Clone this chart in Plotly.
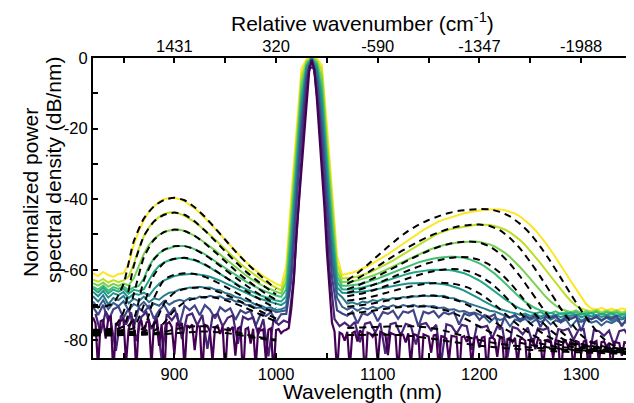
import plotly.graph_objects as go

# ---------------- data ----------------
wavelength = list(range(820, 1355, 5))              # measured grid (nm)
wavelength_b = [w + 2.5 for w in wavelength]        # grid of trace p1
wavelength_fine = [820 + 2.5 * k for k in range(213)]  # grid of trace p0
sim_wl_left = list(range(820, 1005, 10))            # simulation grid, anti-Stokes side
sim_wl_right = list(range(1070, 1355, 10))          # simulation grid, Stokes side

x_tick_vals = [900, 1000, 1100, 1200, 1300]
x_tick_text = ["900", "1000", "1100", "1200", "1300"]
x_minor_vals = [850, 950, 1050, 1150, 1250]
top_tick_vals = [900, 1000, 1100, 1200, 1300]
top_tick_text = ["1431", "320", "-590", "-1347", "-1988"]
y_tick_vals = [0, -20, -40, -60, -80]
y_tick_text = ["0", "-20", "-40", "-60", "-80"]
y_minor_vals = [-10, -30, -50, -70]

meas_p10 = [-61.0, -61.8, -60.6, -61.5, -62.0, -61.2, -61.0, -58.5, -53.0, -49.0,
            -46.0, -43.5, -42.0, -40.8, -40.0, -39.7, -39.7, -40.0, -40.6, -41.5,
            -42.6, -43.9, -45.3, -46.8, -48.4, -50.0, -51.6, -53.2, -54.8, -56.3,
            -57.7, -59.0, -60.2, -61.3, -62.3, -63.2, -64.0, -64.6, -59.0, -39.0,
            -20.0, -3.0, -0.4, 0.0, -0.2, -2.0, -19.0, -37.5, -56.0, -61.5,
            -61.2, -60.8, -60.3, -59.7, -59.0, -58.2, -57.4, -56.5, -55.6, -54.6,
            -53.6, -52.6, -51.6, -50.6, -49.6, -48.7, -47.9, -47.0, -46.3, -45.8,
            -45.3, -44.8, -44.4, -44.0, -43.7, -43.4, -43.2, -43.0, -42.9, -42.8,
            -42.9, -43.1, -43.5, -44.1, -44.9, -46.0, -47.3, -48.8, -50.5, -52.4,
            -54.4, -56.5, -58.7, -61.0, -63.3, -65.6, -67.8, -69.8, -71.0, -71.3,
            -70.8, -71.5, -71.0, -71.6, -70.9, -71.4, -71.2]
meas_p9 = [-62.8, -63.4, -62.6, -63.6, -62.9, -63.5, -63.0, -62.0, -58.5, -54.0,
           -50.5, -48.0, -46.3, -45.0, -44.2, -43.8, -43.8, -44.1, -44.7, -45.5,
           -46.5, -47.6, -48.8, -50.1, -51.4, -52.8, -54.2, -55.6, -57.0, -58.3,
           -59.5, -60.6, -61.7, -62.7, -63.6, -64.4, -65.1, -65.8, -61.5, -42.0,
           -22.5, -5.0, -0.7, 0.0, -0.5, -3.5, -22.0, -40.5, -58.5, -62.5,
           -62.4, -62.2, -61.9, -61.5, -61.0, -60.4, -59.7, -59.0, -58.2, -57.4,
           -56.5, -55.6, -54.7, -53.8, -52.9, -52.0, -51.2, -50.4, -49.7, -49.1,
           -48.6, -48.3, -48.0, -47.7, -47.5, -47.3, -47.2, -47.2, -47.3, -47.6,
           -48.0, -48.6, -49.4, -50.4, -51.6, -53.0, -54.6, -56.3, -58.1, -60.0,
           -61.9, -63.8, -65.6, -67.3, -68.9, -70.2, -71.0, -71.4, -71.8, -71.3,
           -72.0, -71.5, -71.9, -71.4, -72.1, -71.6, -71.8]
meas_p8 = [-63.8, -64.5, -63.6, -64.8, -64.0, -64.6, -63.9, -64.4, -62.5, -59.0,
           -55.5, -53.0, -51.3, -50.1, -49.3, -48.9, -48.7, -48.7, -49.0, -49.6,
           -50.4, -51.3, -52.3, -53.4, -54.5, -55.7, -56.9, -58.1, -59.3, -60.4,
           -61.5, -62.5, -63.4, -64.2, -64.9, -65.6, -66.2, -66.7, -63.5, -45.0,
           -25.5, -7.0, -1.2, 0.0, -1.0, -5.5, -25.0, -43.5, -60.5, -63.5,
           -63.5, -63.3, -63.0, -62.6, -62.2, -61.7, -61.1, -60.5, -59.8, -59.1,
           -58.4, -57.7, -57.0, -56.3, -55.6, -55.0, -54.4, -53.9, -53.4, -53.0,
           -52.7, -52.4, -52.2, -52.1, -52.0, -52.0, -52.1, -52.4, -52.8, -53.4,
           -54.2, -55.2, -56.4, -57.8, -59.3, -60.9, -62.6, -64.3, -66.0, -67.6,
           -69.0, -70.2, -71.1, -71.6, -72.0, -71.5, -72.3, -71.7, -72.2, -71.6,
           -72.4, -71.8, -72.2, -71.7, -72.5, -71.9, -72.1]
meas_p7 = [-64.8, -65.6, -64.5, -65.9, -64.9, -65.4, -64.7, -65.8, -65.0, -64.6,
           -62.5, -59.0, -56.8, -55.3, -54.4, -53.8, -53.4, -53.3, -53.3, -53.6,
           -54.1, -54.8, -55.6, -56.5, -57.5, -58.5, -59.5, -60.5, -61.5, -62.4,
           -63.3, -64.1, -64.9, -65.6, -66.2, -66.8, -67.3, -67.7, -65.5, -48.0,
           -28.0, -9.5, -1.8, 0.0, -1.5, -8.0, -28.0, -47.0, -62.0, -64.5,
           -64.5, -64.4, -64.2, -63.9, -63.5, -63.0, -62.5, -61.9, -61.3, -60.7,
           -60.1, -59.5, -58.9, -58.4, -57.9, -57.5, -57.1, -56.8, -56.6, -56.4,
           -56.3, -56.3, -56.4, -56.6, -57.0, -57.5, -58.2, -59.0, -60.0, -61.1,
           -62.4, -63.8, -65.2, -66.6, -67.9, -69.1, -70.1, -70.9, -71.5, -71.9,
           -72.3, -71.8, -72.6, -72.0, -72.5, -71.9, -72.8, -72.1, -72.4, -71.9,
           -72.7, -72.0, -72.5, -72.1, -72.8, -72.2, -72.4]
meas_p6 = [-65.3, -66.4, -65.1, -66.7, -65.6, -66.2, -65.4, -66.8, -65.7, -66.0,
           -65.5, -63.0, -60.5, -58.9, -57.9, -57.3, -56.9, -56.7, -56.7, -56.9,
           -57.3, -57.9, -58.6, -59.4, -60.3, -61.2, -62.1, -63.0, -63.9, -64.7,
           -65.4, -66.1, -66.7, -67.3, -67.8, -68.3, -68.7, -69.0, -67.5, -51.0,
           -30.0, -12.0, -2.3, 0.0, -2.2, -10.5, -30.0, -49.0, -63.5, -65.5,
           -65.6, -65.5, -65.3, -65.0, -64.7, -64.3, -63.9, -63.4, -62.9, -62.4,
           -61.9, -61.5, -61.1, -60.8, -60.5, -60.3, -60.1, -60.0, -60.0, -60.0,
           -60.1, -60.3, -60.6, -61.0, -61.6, -62.3, -63.1, -64.0, -65.0, -66.1,
           -67.2, -68.3, -69.3, -70.2, -71.0, -71.6, -72.0, -72.4, -72.0, -72.7,
           -72.2, -72.8, -72.3, -72.6, -72.1, -72.9, -72.4, -72.7, -72.2, -73.0,
           -72.5, -72.8, -72.3, -73.1, -72.6, -72.9, -72.5]
meas_p5 = [-66.2, -67.5, -66.0, -67.9, -66.6, -67.2, -66.3, -68.0, -66.8, -67.1,
           -66.5, -67.4, -65.5, -64.0, -63.0, -62.3, -61.8, -61.5, -61.3, -61.2,
           -61.2, -61.3, -61.6, -62.0, -62.5, -63.1, -63.8, -64.5, -65.2, -65.9,
           -66.6, -67.2, -67.8, -68.3, -68.8, -69.2, -69.6, -70.0, -69.0, -54.0,
           -33.0, -14.0, -2.8, 0.0, -2.8, -13.0, -33.0, -52.0, -65.0, -66.5,
           -66.6, -66.5, -66.4, -66.2, -66.0, -65.7, -65.4, -65.1, -64.8, -64.5,
           -64.3, -64.1, -63.9, -63.8, -63.7, -63.7, -63.7, -63.8, -63.9, -64.1,
           -64.4, -64.8, -65.3, -65.9, -66.6, -67.4, -68.2, -69.0, -69.8, -70.5,
           -71.1, -71.6, -72.0, -72.3, -72.8, -72.4, -73.1, -72.6, -73.3, -72.7,
           -73.2, -72.8, -73.4, -72.9, -73.1, -72.6, -73.5, -72.9, -73.2, -72.8,
           -73.4, -73.0, -73.3, -72.9, -73.6, -73.1, -73.3]
meas_p4 = [-67.5, -69.0, -67.2, -69.8, -68.0, -68.6, -67.4, -69.5, -68.2, -68.9,
           -67.6, -69.2, -68.1, -68.5, -67.3, -66.5, -66.3, -65.6, -65.5, -65.0,
           -65.2, -64.8, -65.1, -65.0, -65.6, -65.8, -66.6, -66.9, -67.7, -68.0,
           -68.8, -69.1, -69.9, -70.1, -70.8, -70.6, -71.4, -71.2, -70.5, -57.0,
           -36.0, -17.0, -4.0, -0.2, -4.0, -16.0, -36.0, -55.0, -66.5, -67.8,
           -69.6, -69.2, -69.8, -69.0, -69.3, -68.6, -68.9, -68.3, -68.5, -68.0,
           -68.1, -67.7, -67.9, -67.5, -67.6, -67.3, -67.5, -67.2, -67.5, -67.4,
           -68.0, -68.1, -68.7, -69.0, -69.6, -70.0, -70.6, -71.0, -71.6, -71.8,
           -72.4, -72.9, -73.6, -73.1, -74.0, -73.3, -74.2, -73.5, -73.9, -73.2,
           -74.1, -73.4, -74.3, -73.6, -73.9, -73.3, -74.4, -73.7, -74.0, -73.5,
           -74.2, -73.6, -74.5, -73.8, -74.1, -73.5, -74.0]
meas_p3 = [-69.0, -70.8, -68.6, -71.2, -69.4, -70.3, -68.9, -71.5, -69.7, -70.5,
           -69.1, -70.9, -69.6, -70.2, -68.8, -69.9, -69.0, -68.5, -68.9, -68.0,
           -68.3, -67.6, -68.0, -67.4, -67.8, -67.5, -68.3, -68.2, -69.0, -69.1,
           -69.9, -70.0, -70.8, -70.6, -71.5, -71.2, -72.0, -71.7, -71.5, -60.0,
           -39.0, -19.0, -5.0, -0.3, -5.5, -19.0, -39.0, -58.0, -68.0, -70.5,
           -71.3, -70.6, -71.6, -70.8, -71.2, -70.5, -71.0, -70.3, -70.7, -70.1,
           -70.6, -70.0, -70.4, -69.9, -70.5, -70.1, -70.4, -70.3, -70.8, -70.7,
           -71.3, -71.2, -71.8, -71.7, -72.3, -72.1, -72.7, -73.4, -74.9, -73.6,
           -74.2, -73.8, -76.0, -74.1, -74.6, -73.9, -75.3, -74.2, -74.8, -74.0,
           -75.5, -74.3, -74.9, -74.1, -76.2, -74.4, -74.8, -74.2, -75.0, -74.5,
           -75.8, -74.6, -75.1, -74.3, -75.4, -74.7, -75.0]
meas_p2 = [-70.5, -72.8, -69.9, -74.5, -71.2, -70.4, -73.6, -71.0, -76.5, -70.8,
           -72.1, -70.3, -73.9, -71.5, -70.0, -72.6, -70.7, -75.8, -70.2, -71.4,
           -70.1, -72.9, -70.0, -71.3, -73.8, -70.6, -71.8, -70.9, -74.2, -71.5,
           -72.3, -71.6, -75.9, -72.4, -73.1, -72.0, -74.8, -72.6, -72.5, -63.0,
           -42.0, -21.0, -6.0, -0.4, -7.0, -22.0, -43.0, -62.0, -71.5, -72.4,
           -73.0, -71.9, -75.2, -72.3, -72.8, -71.7, -74.6, -72.0, -72.5, -71.6,
           -73.9, -71.8, -72.2, -71.4, -76.1, -71.9, -72.4, -71.7, -73.5, -72.1,
           -72.6, -72.0, -75.5, -72.4, -73.0, -72.3, -74.2, -72.8, -73.4, -72.6,
           -77.0, -73.1, -73.5, -72.8, -74.6, -73.0, -73.8, -72.9, -76.2, -73.3,
           -73.7, -73.0, -74.9, -73.2, -73.9, -73.1, -77.4, -73.5, -74.0, -73.2,
           -74.5, -73.4, -73.9, -73.1, -76.0, -73.6, -74.1]
meas_p1 = [-72.5, -78.0, -71.8, -74.6, -83.0, -72.9, -75.5, -72.1, -80.2, -73.4,
           -72.0, -76.8, -73.2, -85.5, -72.6, -74.3, -72.3, -79.6, -73.0, -72.4,
           -75.7, -72.8, -82.4, -73.1, -72.5, -76.0, -73.6, -72.9, -81.0, -73.3,
           -74.1, -73.5, -78.3, -74.0, -84.5, -74.2, -75.6, -74.4, -75.0, -62.0,
           -40.0, -17.0, -2.5, -3.0, -17.0, -38.0, -60.0, -74.0, -76.0, -75.0,
           -76.2, -74.8, -80.5, -75.3, -74.9, -77.8, -75.1, -83.8, -75.4, -75.0,
           -78.6, -75.3, -75.8, -81.2, -75.5, -75.1, -77.2, -75.6, -86.0, -75.4,
           -75.9, -78.1, -75.6, -76.0, -82.7, -75.8, -76.3, -75.9, -79.4, -76.1,
           -76.5, -84.9, -76.2, -76.7, -78.3, -76.4, -80.9, -76.6, -77.0, -76.5,
           -83.5, -76.8, -77.2, -76.7, -79.8, -77.0, -76.8, -85.2, -77.1, -77.4,
           -78.7, -77.2, -81.6, -77.4, -77.0, -79.3, -77.5]
meas_p0 = [-73.5, -75.2, -88.0, -74.6, -74.2, -79.5, -73.8, -73.0, -90.0, -75.1,
           -75.8, -74.4, -74.1, -86.5, -76.9, -74.7, -74.0, -89.0, -75.2, -74.3,
           -78.4, -74.9, -74.5, -87.2, -75.0, -74.6, -81.6, -75.4, -91.0, -75.3,
           -74.8, -76.2, -84.0, -75.0, -76.0, -75.1, -88.5, -75.7, -76.4, -75.5,
           -82.8, -75.9, -76.1, -90.0, -75.6, -75.9, -77.6, -86.0, -76.3, -75.8,
           -78.2, -76.0, -89.5, -76.4, -77.0, -76.2, -84.3, -76.6, -76.1, -91.0,
           -76.8, -76.4, -80.9, -76.7, -87.8, -76.5, -77.2, -76.9, -85.5, -77.0,
           -76.6, -90.0, -77.1, -76.8, -78.0, -77.3, -77.0, -76.5, -71.0, -63.0,
           -50.0, -41.0, -30.0, -21.0, -12.0, -4.0, -0.6, -3.0, -11.0, -21.0,
           -30.0, -42.0, -55.0, -65.0, -75.0, -77.5, -89.0, -77.8, -78.2, -80.1,
           -77.6, -88.0, -77.9, -77.5, -80.3, -77.2, -78.0, -91.0, -77.8, -78.1,
           -79.0, -77.7, -86.5, -77.6, -78.0, -78.3, -84.2, -77.9, -78.2, -78.5,
           -89.5, -78.1, -78.4, -80.6, -78.0, -87.0, -78.3, -78.4, -79.2, -90.5,
           -78.3, -78.6, -78.9, -83.5, -78.6, -78.4, -88.2, -78.8, -79.0, -79.5,
           -85.8, -78.7, -78.9, -79.0, -91.0, -79.1, -78.8, -80.4, -78.9, -87.5,
           -79.3, -79.0, -82.0, -79.2, -79.0, -89.6, -79.4, -79.1, -79.8, -84.7,
           -79.2, -79.5, -90.0, -79.6, -79.3, -80.5, -79.3, -86.8, -79.7, -79.5,
           -80.1, -89.2, -79.8, -79.6, -82.5, -79.6, -80.0, -88.0, -80.0, -79.8,
           -80.3, -85.1, -79.9, -80.2, -91.0, -80.1, -80.4, -81.8, -80.0, -88.6,
           -80.2, -80.5, -83.9, -80.3, -80.1, -90.2, -80.4, -80.6, -80.2, -86.0,
           -80.5, -80.3, -81.9, -80.7, -89.4, -80.4, -80.6, -80.8, -84.4, -80.5,
           -80.7, -90.0, -80.6]

sim_l10 = [-70.5, -70.5, -69.5, -64.0, -52.0, -45.5, -42.0, -40.2, -39.6, -40.3,
           -42.3, -45.0, -48.2, -51.5, -54.8, -57.8, -60.5, -63.0, -65.5]
sim_r10 = [-63.0, -61.0, -58.6, -56.0, -53.5, -51.1, -49.0, -47.3, -45.9, -44.8,
           -43.9, -43.3, -43.0, -42.8, -42.9, -43.6, -44.9, -47.0, -49.8, -53.5,
           -57.7, -62.3, -67.0, -71.5, -75.5, -79.0, -81.2, -82.2, -82.6]
sim_l9 = [-77.0, -77.0, -76.5, -72.0, -59.0, -50.5, -46.3, -44.4, -43.8, -44.4,
          -46.3, -48.9, -51.8, -54.8, -57.7, -60.4, -62.8, -65.0, -67.0]
sim_r9 = [-64.0, -62.5, -60.8, -59.0, -57.1, -55.3, -53.6, -52.0, -50.6, -49.4,
          -48.4, -47.7, -47.3, -47.2, -47.6, -48.8, -51.0, -54.0, -57.8, -62.0,
          -66.5, -71.0, -75.0, -78.5, -80.6, -81.6, -82.1, -82.4, -82.6]
sim_l8 = [-77.2, -77.2, -77.0, -76.0, -67.0, -56.5, -51.5, -49.3, -48.6, -49.0,
          -50.4, -52.5, -55.0, -57.6, -60.2, -62.6, -64.8, -66.8, -68.5]
sim_r8 = [-65.5, -64.5, -63.2, -61.8, -60.3, -58.8, -57.3, -55.9, -54.6, -53.5,
          -52.7, -52.2, -52.0, -52.3, -53.4, -55.4, -58.3, -61.9, -65.9, -70.0,
          -74.0, -77.4, -79.8, -81.0, -81.6, -82.0, -82.3, -82.5, -82.7]
sim_l7 = [-77.4, -77.4, -77.3, -77.0, -74.0, -63.0, -57.0, -54.3, -53.3, -53.3,
          -54.2, -55.8, -57.8, -60.0, -62.2, -64.3, -66.3, -68.1, -69.7]
sim_r7 = [-66.5, -65.8, -64.9, -63.8, -62.6, -61.4, -60.2, -59.1, -58.1, -57.3,
          -56.7, -56.4, -56.5, -57.2, -58.6, -60.8, -63.7, -67.1, -70.8, -74.3,
          -77.2, -79.3, -80.6, -81.3, -81.8, -82.1, -82.4, -82.6, -82.8]
sim_l6 = [-77.6, -77.6, -77.5, -77.3, -76.5, -70.0, -61.5, -58.0, -56.9, -56.6,
          -57.2, -58.5, -60.2, -62.1, -64.0, -65.9, -67.7, -69.4, -70.9]
sim_r6 = [-67.5, -67.0, -66.3, -65.4, -64.4, -63.4, -62.4, -61.5, -60.7, -60.1,
          -59.8, -59.9, -60.5, -61.7, -63.5, -66.0, -69.0, -72.2, -75.2, -77.6,
          -79.3, -80.4, -81.1, -81.6, -82.0, -82.3, -82.5, -82.7, -82.9]
sim_l5 = [-77.8, -77.8, -77.8, -77.7, -77.5, -76.5, -68.0, -62.8, -61.4, -61.0,
          -61.2, -62.0, -63.3, -64.8, -66.4, -68.0, -69.6, -71.1, -72.5]
sim_r5 = [-68.8, -68.4, -67.9, -67.2, -66.4, -65.6, -64.9, -64.3, -63.9, -63.7,
          -63.8, -64.3, -65.2, -66.7, -68.7, -71.1, -73.7, -76.1, -78.1, -79.6,
          -80.6, -81.3, -81.8, -82.1, -82.4, -82.6, -82.8, -83.0, -83.1]
sim_l4 = [-78.0, -78.0, -78.0, -77.9, -77.8, -77.6, -75.5, -69.5, -66.5, -65.4,
          -65.0, -65.2, -65.9, -67.0, -68.3, -69.7, -71.1, -72.5, -73.8]
sim_r4 = [-70.5, -70.2, -69.8, -69.3, -68.7, -68.2, -67.7, -67.4, -67.3, -67.5,
          -68.0, -68.9, -70.2, -71.9, -73.8, -75.8, -77.6, -79.0, -80.1, -80.9,
          -81.5, -81.9, -82.2, -82.5, -82.7, -82.9, -83.0, -83.2, -83.3]
sim_l3 = [-78.2, -78.2, -78.2, -78.1, -78.0, -77.9, -77.3, -75.0, -71.5, -69.2,
          -68.1, -67.7, -67.9, -68.6, -69.6, -70.8, -72.1, -73.4, -74.7]
sim_r3 = [-72.5, -72.2, -71.8, -71.4, -71.0, -70.6, -70.4, -70.3, -70.5, -71.0,
          -71.8, -73.0, -74.5, -76.1, -77.6, -78.9, -79.9, -80.7, -81.3, -81.7,
          -82.1, -82.4, -82.6, -82.8, -83.0, -83.1, -83.3, -83.4, -83.5]
sim_l2 = [-78.4, -78.4, -78.4, -78.3, -78.3, -78.2, -78.0, -77.6, -76.9, -76.3,
          -76.0, -76.0, -76.3, -76.9, -77.6, -78.3, -78.9, -79.4, -79.8]
sim_r2 = [-76.5, -76.4, -76.3, -76.2, -76.1, -76.0, -76.0, -76.1, -76.4, -76.9,
          -77.6, -78.4, -79.2, -79.9, -80.5, -81.0, -81.4, -81.7, -82.0, -82.2,
          -82.4, -82.6, -82.8, -82.9, -83.0, -83.2, -83.3, -83.4, -83.5]
sim_l1 = [-78.6, -78.6, -78.6, -78.5, -78.5, -78.4, -78.3, -78.2, -78.0, -77.8,
          -77.6, -77.5, -77.6, -77.9, -78.3, -78.8, -79.3, -79.7, -80.1]
sim_r1 = [-78.5, -78.5, -78.4, -78.4, -78.4, -78.5, -78.7, -79.0, -79.4, -79.8,
          -80.3, -80.7, -81.1, -81.5, -81.8, -82.1, -82.3, -82.5, -82.7, -82.9,
          -83.0, -83.2, -83.3, -83.4, -83.5, -83.6, -83.7, -83.8, -83.9]

measured = [meas_p0, meas_p1, meas_p2, meas_p3, meas_p4, meas_p5,
            meas_p6, meas_p7, meas_p8, meas_p9, meas_p10]
measured_x = [wavelength_fine, wavelength_b] + [wavelength] * 9
sims = [(sim_l1, sim_r1), (sim_l2, sim_r2), (sim_l3, sim_r3), (sim_l4, sim_r4),
        (sim_l5, sim_r5), (sim_l6, sim_r6), (sim_l7, sim_r7), (sim_l8, sim_r8),
        (sim_l9, sim_r9), (sim_l10, sim_r10)]

# ---------------- style ----------------
viridis = ["#440154", "#482475", "#414487", "#355f8d", "#2a788e", "#21918c",
           "#22a884", "#44bf70", "#7ad151", "#bddf26", "#fde725"]
line_widths = [2.2, 2.2, 2.2, 2, 2, 2, 2, 2, 2, 2, 2]
FONT = "Liberation Sans, Arial, Helvetica, sans-serif"

for xs, series in zip(measured_x, measured):
    assert len(series) == len(xs), len(series)
for l, r in sims:
    assert len(l) == len(sim_wl_left) and len(r) == len(sim_wl_right)

fig = go.Figure()

# measured spectra: bright (high power) first, dark last
for i in range(len(measured) - 1, -1, -1):
    fig.add_trace(go.Scatter(x=measured_x[i], y=measured[i], mode="lines",
                             line=dict(color=viridis[i], width=line_widths[i]),
                             hoverinfo="skip", showlegend=False))

# simulations: black dashed
for l, r in sims:
    for xs, ys in ((sim_wl_left, l), (sim_wl_right, r)):
        fig.add_trace(go.Scatter(x=xs, y=ys, mode="lines",
                                 line=dict(color="black", width=2, dash="7px,5px",
                                           shape="spline", smoothing=0.6),
                                 hoverinfo="skip", showlegend=False))

# invisible trace to anchor the top (wavenumber) axis
fig.add_trace(go.Scatter(x=wavelength, y=meas_p10, xaxis="x2", mode="lines",
                         line=dict(width=0), opacity=0, hoverinfo="skip",
                         showlegend=False))

axis_common = dict(showgrid=False, zeroline=False, color="black", automargin=False)
minor_common = dict(ticks="inside", ticklen=5, tickwidth=1.5, tickcolor="black",
                    showgrid=False)
TICK_FONT = dict(size=16.5, family=FONT, color="black")
TITLE_FONT = dict(size=21, family=FONT, color="black")

# the page body adds an 8 px offset, so the figure is 8 px smaller than the window
fig.update_layout(
    width=626, height=395,
    margin=dict(l=85, r=2, t=50, b=45, autoexpand=False),
    paper_bgcolor="white", plot_bgcolor="white",
    showlegend=False,
    font=dict(family=FONT, color="black", size=16),
    xaxis=dict(range=[820, 1350], tickvals=x_tick_vals, ticktext=x_tick_text,
               ticks="inside", ticklen=5, tickwidth=1.5, tickcolor="black",
               minor=dict(tickvals=x_minor_vals, **minor_common),
               showline=True, linecolor="black", linewidth=2, mirror="ticks",
               tickfont=TICK_FONT, **axis_common),
    xaxis2=dict(range=[820, 1350], overlaying="x", side="top", anchor="y",
                tickvals=top_tick_vals, ticktext=top_tick_text, ticks="",
                showline=False, tickfont=TICK_FONT, ticklabelstandoff=2,
                **axis_common),
    yaxis=dict(range=[-85, 0], tickvals=y_tick_vals, ticktext=y_tick_text,
               ticks="inside", ticklen=5, tickwidth=1.5, tickcolor="black",
               minor=dict(tickvals=y_minor_vals, **minor_common),
               showline=True, linecolor="black", linewidth=2, mirror="ticks",
               tickfont=TICK_FONT, **axis_common),
    annotations=[
        dict(text="Wavelength (nm)", xref="paper", yref="paper", x=0.5, y=0,
             xanchor="center", yanchor="middle", yshift=-33, showarrow=False,
             font=TITLE_FONT),
        dict(text="Relative wavenumber (cm<sup>-1</sup>)", xref="paper",
             yref="paper", x=0.5, y=1, xanchor="center", yanchor="middle",
             yshift=36, showarrow=False, font=TITLE_FONT),
        dict(text="Normalized power", xref="paper", yref="paper", x=0, y=0.5,
             xanchor="center", yanchor="middle", xshift=-63, yshift=15,
             textangle=-90, showarrow=False, font=TITLE_FONT),
        dict(text="spectral density (dB/nm)", xref="paper", yref="paper", x=0,
             y=0.5, xanchor="center", yanchor="middle", xshift=-40, yshift=38,
             textangle=-90, showarrow=False, font=TITLE_FONT),
    ],
)

fig.write_html("out.html")
